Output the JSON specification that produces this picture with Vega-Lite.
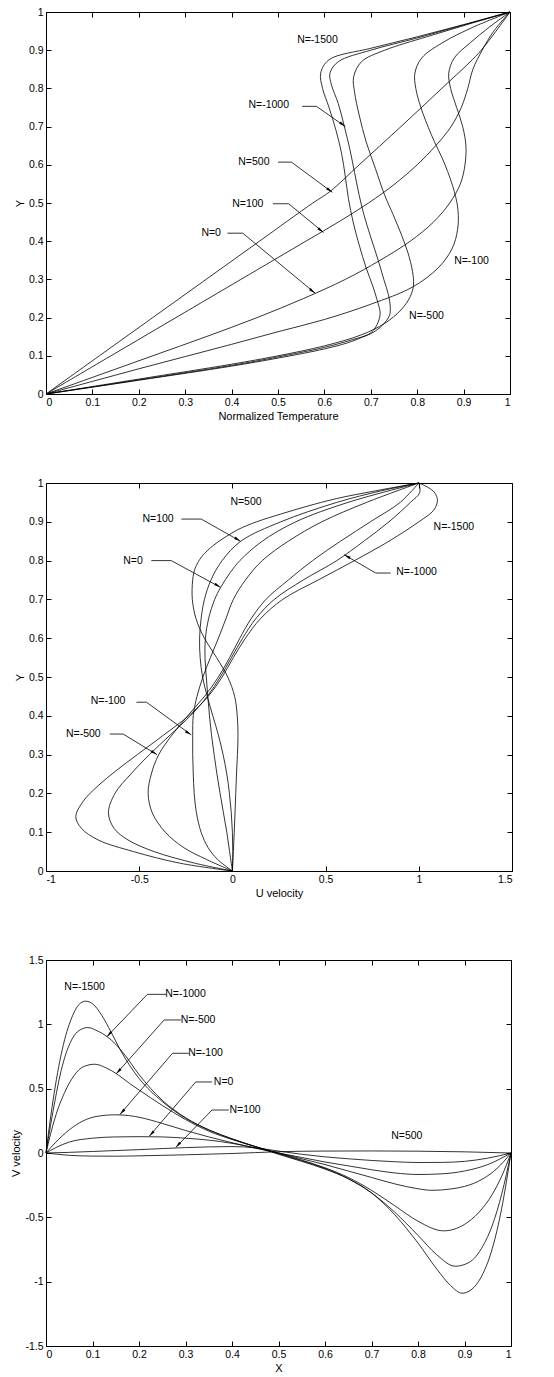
{
"$schema": "https://vega.github.io/schema/vega-lite/v6.json",
"padding": {"left": 10, "top": 6, "right": 8, "bottom": 4},
"background": "white",
"spacing": 89,
"bounds": "flush",
"config": {
  "view": {"stroke": "black", "strokeWidth": 1},
  "axis": {"grid": false, "domain": false, "tickColor": "black", "tickSize": -5, "tickWidth": 1, "labelColor": "black", "labelFont": "Liberation Sans", "labelFontSize": 10.5, "titleFont": "Liberation Sans", "titleFontSize": 11, "titleFontWeight": "normal", "titleColor": "black", "labelPadding": 8, "titlePadding": 3},
  "text": {"font": "Liberation Sans", "fontSize": 10.5, "color": "black"},
  "locale": {"number": {"decimal": ".", "thousands": ",", "grouping": [3], "currency": ["$", ""], "minus": "-"}}
},
"datasets": {
  "temp": [
    {"n":500,"y":0,"t":0},{"n":500,"y":0.1,"t":0.115},{"n":500,"y":0.2,"t":0.23},{"n":500,"y":0.3,"t":0.345},{"n":500,"y":0.4,"t":0.46},{"n":500,"y":0.5,"t":0.575},{"n":500,"y":0.53,"t":0.612},{"n":500,"y":0.6,"t":0.675},{"n":500,"y":0.7,"t":0.765},{"n":500,"y":0.8,"t":0.853},{"n":500,"y":0.867,"t":0.912},{"n":500,"y":0.9,"t":0.938},{"n":500,"y":0.95,"t":0.97},{"n":500,"y":1,"t":1},
    {"n":100,"y":0,"t":0},{"n":100,"y":0.1,"t":0.14},{"n":100,"y":0.2,"t":0.28},{"n":100,"y":0.3,"t":0.42},{"n":100,"y":0.35,"t":0.49},{"n":100,"y":0.4,"t":0.56},{"n":100,"y":0.45,"t":0.63},{"n":100,"y":0.5,"t":0.695},{"n":100,"y":0.55,"t":0.752},{"n":100,"y":0.6,"t":0.8},{"n":100,"y":0.65,"t":0.84},{"n":100,"y":0.7,"t":0.873},{"n":100,"y":0.75,"t":0.895},{"n":100,"y":0.8,"t":0.909},{"n":100,"y":0.85,"t":0.92},{"n":100,"y":0.9,"t":0.94},{"n":100,"y":0.95,"t":0.965},{"n":100,"y":1,"t":1},
    {"n":0,"y":0,"t":0},{"n":0,"y":0.05,"t":0.115},{"n":0,"y":0.1,"t":0.23},{"n":0,"y":0.15,"t":0.345},{"n":0,"y":0.2,"t":0.455},{"n":0,"y":0.25,"t":0.555},{"n":0,"y":0.3,"t":0.645},{"n":0,"y":0.35,"t":0.72},{"n":0,"y":0.4,"t":0.785},{"n":0,"y":0.45,"t":0.835},{"n":0,"y":0.5,"t":0.87},{"n":0,"y":0.55,"t":0.893},{"n":0,"y":0.6,"t":0.903},{"n":0,"y":0.65,"t":0.905},{"n":0,"y":0.7,"t":0.898},{"n":0,"y":0.75,"t":0.885},{"n":0,"y":0.8,"t":0.872},{"n":0,"y":0.84,"t":0.868},{"n":0,"y":0.88,"t":0.88},{"n":0,"y":0.92,"t":0.915},{"n":0,"y":0.96,"t":0.955},{"n":0,"y":1,"t":1},
    {"n":-100,"y":0,"t":0},{"n":-100,"y":0.033,"t":0.1},{"n":-100,"y":0.066,"t":0.2},{"n":-100,"y":0.098,"t":0.3},{"n":-100,"y":0.13,"t":0.4},{"n":-100,"y":0.163,"t":0.5},{"n":-100,"y":0.195,"t":0.6},{"n":-100,"y":0.235,"t":0.7},{"n":-100,"y":0.28,"t":0.79},{"n":-100,"y":0.33,"t":0.845},{"n":-100,"y":0.38,"t":0.875},{"n":-100,"y":0.43,"t":0.887},{"n":-100,"y":0.48,"t":0.888},{"n":-100,"y":0.53,"t":0.88},{"n":-100,"y":0.6,"t":0.86},{"n":-100,"y":0.68,"t":0.83},{"n":-100,"y":0.75,"t":0.808},{"n":-100,"y":0.8,"t":0.797},{"n":-100,"y":0.84,"t":0.795},{"n":-100,"y":0.88,"t":0.81},{"n":-100,"y":0.92,"t":0.855},{"n":-100,"y":0.96,"t":0.92},{"n":-100,"y":1,"t":1},
    {"n":-500,"y":0,"t":0},{"n":-500,"y":0.039,"t":0.2},{"n":-500,"y":0.078,"t":0.4},{"n":-500,"y":0.1,"t":0.5},{"n":-500,"y":0.126,"t":0.6},{"n":-500,"y":0.155,"t":0.68},{"n":-500,"y":0.185,"t":0.73},{"n":-500,"y":0.22,"t":0.765},{"n":-500,"y":0.255,"t":0.785},{"n":-500,"y":0.285,"t":0.792},{"n":-500,"y":0.32,"t":0.79},{"n":-500,"y":0.37,"t":0.78},{"n":-500,"y":0.42,"t":0.765},{"n":-500,"y":0.47,"t":0.748},{"n":-500,"y":0.52,"t":0.73},{"n":-500,"y":0.59,"t":0.71},{"n":-500,"y":0.66,"t":0.69},{"n":-500,"y":0.73,"t":0.675},{"n":-500,"y":0.79,"t":0.665},{"n":-500,"y":0.83,"t":0.663},{"n":-500,"y":0.87,"t":0.68},{"n":-500,"y":0.9,"t":0.73},{"n":-500,"y":0.935,"t":0.82},{"n":-500,"y":0.968,"t":0.91},{"n":-500,"y":1,"t":1},
    {"n":-1000,"y":0,"t":0},{"n":-1000,"y":0.037,"t":0.2},{"n":-1000,"y":0.075,"t":0.4},{"n":-1000,"y":0.097,"t":0.5},{"n":-1000,"y":0.122,"t":0.6},{"n":-1000,"y":0.142,"t":0.66},{"n":-1000,"y":0.158,"t":0.7},{"n":-1000,"y":0.18,"t":0.725},{"n":-1000,"y":0.205,"t":0.74},{"n":-1000,"y":0.225,"t":0.742},{"n":-1000,"y":0.26,"t":0.738},{"n":-1000,"y":0.3,"t":0.728},{"n":-1000,"y":0.35,"t":0.716},{"n":-1000,"y":0.41,"t":0.7},{"n":-1000,"y":0.47,"t":0.685},{"n":-1000,"y":0.52,"t":0.675},{"n":-1000,"y":0.58,"t":0.665},{"n":-1000,"y":0.64,"t":0.655},{"n":-1000,"y":0.7,"t":0.643},{"n":-1000,"y":0.76,"t":0.63},{"n":-1000,"y":0.81,"t":0.615},{"n":-1000,"y":0.84,"t":0.612},{"n":-1000,"y":0.87,"t":0.63},{"n":-1000,"y":0.9,"t":0.7},{"n":-1000,"y":0.932,"t":0.8},{"n":-1000,"y":0.966,"t":0.9},{"n":-1000,"y":1,"t":1},
    {"n":-1500,"y":0,"t":0},{"n":-1500,"y":0.036,"t":0.2},{"n":-1500,"y":0.073,"t":0.4},{"n":-1500,"y":0.094,"t":0.5},{"n":-1500,"y":0.118,"t":0.6},{"n":-1500,"y":0.134,"t":0.65},{"n":-1500,"y":0.148,"t":0.68},{"n":-1500,"y":0.16,"t":0.7},{"n":-1500,"y":0.176,"t":0.711},{"n":-1500,"y":0.2,"t":0.719},{"n":-1500,"y":0.215,"t":0.72},{"n":-1500,"y":0.24,"t":0.715},{"n":-1500,"y":0.28,"t":0.705},{"n":-1500,"y":0.33,"t":0.69},{"n":-1500,"y":0.39,"t":0.675},{"n":-1500,"y":0.45,"t":0.662},{"n":-1500,"y":0.51,"t":0.652},{"n":-1500,"y":0.57,"t":0.645},{"n":-1500,"y":0.63,"t":0.637},{"n":-1500,"y":0.69,"t":0.625},{"n":-1500,"y":0.75,"t":0.61},{"n":-1500,"y":0.8,"t":0.596},{"n":-1500,"y":0.84,"t":0.592},{"n":-1500,"y":0.875,"t":0.61},{"n":-1500,"y":0.905,"t":0.7},{"n":-1500,"y":0.935,"t":0.8},{"n":-1500,"y":0.967,"t":0.9},{"n":-1500,"y":1,"t":1}
  ],
  "lab1": [
    {"label":"N=-1500","x":0.585,"y":0.926},{"label":"N=-1000","x":0.48,"y":0.757},{"label":"N=500","x":0.448,"y":0.607},{"label":"N=100","x":0.435,"y":0.498},{"label":"N=0","x":0.356,"y":0.421},{"label":"N=-100","x":0.917,"y":0.347},{"label":"N=-500","x":0.82,"y":0.203}
  ],
  "ld1": [
    {"g":"N=-1000","s":1,"x":0.552,"y":0.753},{"g":"N=-1000","s":2,"x":0.583,"y":0.753},{"g":"N=-1000","s":3,"x":0.645,"y":0.7},
    {"g":"N=500","s":1,"x":0.5,"y":0.607},{"g":"N=500","s":2,"x":0.529,"y":0.607},{"g":"N=500","s":3,"x":0.617,"y":0.528},
    {"g":"N=100","s":1,"x":0.489,"y":0.498},{"g":"N=100","s":2,"x":0.523,"y":0.498},{"g":"N=100","s":3,"x":0.598,"y":0.423},
    {"g":"N=0","s":1,"x":0.391,"y":0.421},{"g":"N=0","s":2,"x":0.424,"y":0.421},{"g":"N=0","s":3,"x":0.58,"y":0.264}
  ],
  "uvel": [
    {"n":500,"y":0,"u":0},{"n":500,"y":0.05,"u":0.005},{"n":500,"y":0.1,"u":0.01},{"n":500,"y":0.15,"u":0.014},{"n":500,"y":0.2,"u":0.018},{"n":500,"y":0.25,"u":0.022},{"n":500,"y":0.3,"u":0.027},{"n":500,"y":0.35,"u":0.03},{"n":500,"y":0.4,"u":0.026},{"n":500,"y":0.45,"u":0.012},{"n":500,"y":0.5,"u":-0.025},{"n":500,"y":0.55,"u":-0.085},{"n":500,"y":0.6,"u":-0.15},{"n":500,"y":0.65,"u":-0.195},{"n":500,"y":0.7,"u":-0.215},{"n":500,"y":0.75,"u":-0.213},{"n":500,"y":0.78,"u":-0.2},{"n":500,"y":0.81,"u":-0.165},{"n":500,"y":0.84,"u":-0.1},{"n":500,"y":0.86,"u":-0.04},{"n":500,"y":0.88,"u":0.03},{"n":500,"y":0.9,"u":0.13},{"n":500,"y":0.92,"u":0.26},{"n":500,"y":0.94,"u":0.4},{"n":500,"y":0.96,"u":0.56},{"n":500,"y":0.98,"u":0.77},{"n":500,"y":1,"u":1},
    {"n":100,"y":0,"u":0},{"n":100,"y":0.05,"u":0.002},{"n":100,"y":0.1,"u":0.0},{"n":100,"y":0.15,"u":-0.006},{"n":100,"y":0.2,"u":-0.016},{"n":100,"y":0.25,"u":-0.03},{"n":100,"y":0.3,"u":-0.05},{"n":100,"y":0.35,"u":-0.075},{"n":100,"y":0.4,"u":-0.105},{"n":100,"y":0.45,"u":-0.135},{"n":100,"y":0.5,"u":-0.16},{"n":100,"y":0.55,"u":-0.173},{"n":100,"y":0.6,"u":-0.176},{"n":100,"y":0.65,"u":-0.168},{"n":100,"y":0.7,"u":-0.15},{"n":100,"y":0.75,"u":-0.115},{"n":100,"y":0.8,"u":-0.055},{"n":100,"y":0.85,"u":0.045},{"n":100,"y":0.9,"u":0.26},{"n":100,"y":0.95,"u":0.56},{"n":100,"y":0.98,"u":0.8},{"n":100,"y":1,"u":1},
    {"n":0,"y":0,"u":0},{"n":0,"y":0.05,"u":-0.015},{"n":0,"y":0.1,"u":-0.03},{"n":0,"y":0.15,"u":-0.048},{"n":0,"y":0.2,"u":-0.066},{"n":0,"y":0.25,"u":-0.083},{"n":0,"y":0.3,"u":-0.098},{"n":0,"y":0.35,"u":-0.112},{"n":0,"y":0.4,"u":-0.123},{"n":0,"y":0.45,"u":-0.132},{"n":0,"y":0.5,"u":-0.14},{"n":0,"y":0.55,"u":-0.147},{"n":0,"y":0.6,"u":-0.145},{"n":0,"y":0.65,"u":-0.128},{"n":0,"y":0.7,"u":-0.095},{"n":0,"y":0.73,"u":-0.064},{"n":0,"y":0.77,"u":-0.01},{"n":0,"y":0.8,"u":0.04},{"n":0,"y":0.85,"u":0.16},{"n":0,"y":0.9,"u":0.34},{"n":0,"y":0.95,"u":0.62},{"n":0,"y":1,"u":1},
    {"n":-100,"y":0,"u":0},{"n":-100,"y":0.03,"u":-0.08},{"n":-100,"y":0.06,"u":-0.13},{"n":-100,"y":0.1,"u":-0.168},{"n":-100,"y":0.15,"u":-0.193},{"n":-100,"y":0.2,"u":-0.205},{"n":-100,"y":0.25,"u":-0.21},{"n":-100,"y":0.3,"u":-0.213},{"n":-100,"y":0.35,"u":-0.213},{"n":-100,"y":0.4,"u":-0.21},{"n":-100,"y":0.45,"u":-0.19},{"n":-100,"y":0.5,"u":-0.158},{"n":-100,"y":0.55,"u":-0.118},{"n":-100,"y":0.6,"u":-0.075},{"n":-100,"y":0.65,"u":-0.035},{"n":-100,"y":0.7,"u":0.005},{"n":-100,"y":0.75,"u":0.07},{"n":-100,"y":0.8,"u":0.16},{"n":-100,"y":0.85,"u":0.3},{"n":-100,"y":0.9,"u":0.48},{"n":-100,"y":0.95,"u":0.72},{"n":-100,"y":1,"u":1},
    {"n":-500,"y":0,"u":0},{"n":-500,"y":0.03,"u":-0.14},{"n":-500,"y":0.06,"u":-0.26},{"n":-500,"y":0.1,"u":-0.36},{"n":-500,"y":0.15,"u":-0.43},{"n":-500,"y":0.2,"u":-0.452},{"n":-500,"y":0.25,"u":-0.435},{"n":-500,"y":0.3,"u":-0.395},{"n":-500,"y":0.35,"u":-0.325},{"n":-500,"y":0.4,"u":-0.24},{"n":-500,"y":0.45,"u":-0.15},{"n":-500,"y":0.5,"u":-0.075},{"n":-500,"y":0.55,"u":-0.015},{"n":-500,"y":0.6,"u":0.04},{"n":-500,"y":0.65,"u":0.1},{"n":-500,"y":0.7,"u":0.18},{"n":-500,"y":0.75,"u":0.3},{"n":-500,"y":0.8,"u":0.43},{"n":-500,"y":0.85,"u":0.58},{"n":-500,"y":0.9,"u":0.74},{"n":-500,"y":0.95,"u":0.9},{"n":-500,"y":1,"u":1},
    {"n":-1000,"y":0,"u":0},{"n":-1000,"y":0.02,"u":-0.2},{"n":-1000,"y":0.05,"u":-0.42},{"n":-1000,"y":0.08,"u":-0.56},{"n":-1000,"y":0.11,"u":-0.635},{"n":-1000,"y":0.15,"u":-0.665},{"n":-1000,"y":0.2,"u":-0.63},{"n":-1000,"y":0.25,"u":-0.545},{"n":-1000,"y":0.3,"u":-0.445},{"n":-1000,"y":0.35,"u":-0.335},{"n":-1000,"y":0.4,"u":-0.225},{"n":-1000,"y":0.45,"u":-0.135},{"n":-1000,"y":0.5,"u":-0.065},{"n":-1000,"y":0.55,"u":-0.005},{"n":-1000,"y":0.6,"u":0.055},{"n":-1000,"y":0.65,"u":0.125},{"n":-1000,"y":0.7,"u":0.225},{"n":-1000,"y":0.75,"u":0.38},{"n":-1000,"y":0.8,"u":0.56},{"n":-1000,"y":0.85,"u":0.705},{"n":-1000,"y":0.9,"u":0.84},{"n":-1000,"y":0.95,"u":0.955},{"n":-1000,"y":0.975,"u":1.005},{"n":-1000,"y":1,"u":1},
    {"n":-1500,"y":0,"u":0},{"n":-1500,"y":0.02,"u":-0.28},{"n":-1500,"y":0.05,"u":-0.53},{"n":-1500,"y":0.08,"u":-0.72},{"n":-1500,"y":0.11,"u":-0.81},{"n":-1500,"y":0.14,"u":-0.84},{"n":-1500,"y":0.18,"u":-0.8},{"n":-1500,"y":0.22,"u":-0.72},{"n":-1500,"y":0.26,"u":-0.62},{"n":-1500,"y":0.3,"u":-0.51},{"n":-1500,"y":0.35,"u":-0.37},{"n":-1500,"y":0.4,"u":-0.235},{"n":-1500,"y":0.45,"u":-0.13},{"n":-1500,"y":0.5,"u":-0.055},{"n":-1500,"y":0.55,"u":0.005},{"n":-1500,"y":0.6,"u":0.07},{"n":-1500,"y":0.65,"u":0.15},{"n":-1500,"y":0.7,"u":0.27},{"n":-1500,"y":0.75,"u":0.46},{"n":-1500,"y":0.8,"u":0.655},{"n":-1500,"y":0.85,"u":0.84},{"n":-1500,"y":0.9,"u":1.0},{"n":-1500,"y":0.93,"u":1.08},{"n":-1500,"y":0.955,"u":1.1},{"n":-1500,"y":0.975,"u":1.085},{"n":-1500,"y":0.99,"u":1.045},{"n":-1500,"y":1,"u":1}
  ],
  "lab2": [
    {"label":"N=500","x":0.073,"y":0.95},{"label":"N=100","x":-0.399,"y":0.907},{"label":"N=0","x":-0.533,"y":0.8},{"label":"N=-1500","x":1.188,"y":0.886},{"label":"N=-1000","x":0.988,"y":0.77},{"label":"N=-100","x":-0.667,"y":0.439},{"label":"N=-500","x":-0.8,"y":0.353}
  ],
  "ld2": [
    {"g":"N=100","s":1,"x":-0.274,"y":0.907},{"g":"N=100","s":2,"x":-0.167,"y":0.907},{"g":"N=100","s":3,"x":0.043,"y":0.85},
    {"g":"N=0","s":1,"x":-0.435,"y":0.8},{"g":"N=0","s":2,"x":-0.328,"y":0.8},{"g":"N=0","s":3,"x":-0.064,"y":0.731},
    {"g":"N=-100","s":1,"x":-0.515,"y":0.435},{"g":"N=-100","s":2,"x":-0.461,"y":0.435},{"g":"N=-100","s":3,"x":-0.221,"y":0.351},
    {"g":"N=-500","s":1,"x":-0.658,"y":0.353},{"g":"N=-500","s":2,"x":-0.586,"y":0.353},{"g":"N=-500","s":3,"x":-0.405,"y":0.3},
    {"g":"N=-1000","s":1,"x":0.849,"y":0.768},{"g":"N=-1000","s":2,"x":0.769,"y":0.768},{"g":"N=-1000","s":3,"x":0.6,"y":0.815}
  ],
  "vvel": [
    {"n":-1500,"x":0,"v":0},{"n":-1500,"x":0.01,"v":0.28},{"n":-1500,"x":0.02,"v":0.52},{"n":-1500,"x":0.03,"v":0.72},{"n":-1500,"x":0.04,"v":0.88},{"n":-1500,"x":0.05,"v":1.0},{"n":-1500,"x":0.06,"v":1.09},{"n":-1500,"x":0.07,"v":1.15},{"n":-1500,"x":0.085,"v":1.18},{"n":-1500,"x":0.1,"v":1.16},{"n":-1500,"x":0.12,"v":1.07},{"n":-1500,"x":0.14,"v":0.94},{"n":-1500,"x":0.16,"v":0.8},{"n":-1500,"x":0.18,"v":0.68},{"n":-1500,"x":0.2,"v":0.58},{"n":-1500,"x":0.25,"v":0.4},{"n":-1500,"x":0.3,"v":0.27},{"n":-1500,"x":0.35,"v":0.18},{"n":-1500,"x":0.4,"v":0.11},{"n":-1500,"x":0.45,"v":0.05},{"n":-1500,"x":0.5,"v":-0.01},{"n":-1500,"x":0.55,"v":-0.065},{"n":-1500,"x":0.6,"v":-0.125},{"n":-1500,"x":0.65,"v":-0.2},{"n":-1500,"x":0.7,"v":-0.31},{"n":-1500,"x":0.75,"v":-0.48},{"n":-1500,"x":0.8,"v":-0.7},{"n":-1500,"x":0.84,"v":-0.9},{"n":-1500,"x":0.87,"v":-1.03},{"n":-1500,"x":0.895,"v":-1.09},{"n":-1500,"x":0.92,"v":-1.045},{"n":-1500,"x":0.94,"v":-0.935},{"n":-1500,"x":0.96,"v":-0.74},{"n":-1500,"x":0.98,"v":-0.43},{"n":-1500,"x":1,"v":0},
    {"n":-1000,"x":0,"v":0},{"n":-1000,"x":0.01,"v":0.22},{"n":-1000,"x":0.02,"v":0.42},{"n":-1000,"x":0.03,"v":0.6},{"n":-1000,"x":0.04,"v":0.74},{"n":-1000,"x":0.05,"v":0.84},{"n":-1000,"x":0.06,"v":0.91},{"n":-1000,"x":0.075,"v":0.96},{"n":-1000,"x":0.09,"v":0.975},{"n":-1000,"x":0.11,"v":0.95},{"n":-1000,"x":0.133,"v":0.9},{"n":-1000,"x":0.15,"v":0.845},{"n":-1000,"x":0.17,"v":0.76},{"n":-1000,"x":0.2,"v":0.61},{"n":-1000,"x":0.25,"v":0.41},{"n":-1000,"x":0.3,"v":0.275},{"n":-1000,"x":0.35,"v":0.18},{"n":-1000,"x":0.4,"v":0.11},{"n":-1000,"x":0.45,"v":0.05},{"n":-1000,"x":0.5,"v":-0.005},{"n":-1000,"x":0.55,"v":-0.06},{"n":-1000,"x":0.6,"v":-0.12},{"n":-1000,"x":0.65,"v":-0.2},{"n":-1000,"x":0.7,"v":-0.31},{"n":-1000,"x":0.75,"v":-0.46},{"n":-1000,"x":0.8,"v":-0.64},{"n":-1000,"x":0.84,"v":-0.79},{"n":-1000,"x":0.88,"v":-0.88},{"n":-1000,"x":0.91,"v":-0.85},{"n":-1000,"x":0.94,"v":-0.72},{"n":-1000,"x":0.96,"v":-0.56},{"n":-1000,"x":0.98,"v":-0.32},{"n":-1000,"x":1,"v":0},
    {"n":-500,"x":0,"v":0},{"n":-500,"x":0.01,"v":0.15},{"n":-500,"x":0.02,"v":0.28},{"n":-500,"x":0.04,"v":0.47},{"n":-500,"x":0.06,"v":0.6},{"n":-500,"x":0.08,"v":0.67},{"n":-500,"x":0.105,"v":0.69},{"n":-500,"x":0.13,"v":0.66},{"n":-500,"x":0.152,"v":0.615},{"n":-500,"x":0.18,"v":0.54},{"n":-500,"x":0.2,"v":0.49},{"n":-500,"x":0.25,"v":0.37},{"n":-500,"x":0.3,"v":0.26},{"n":-500,"x":0.35,"v":0.17},{"n":-500,"x":0.4,"v":0.105},{"n":-500,"x":0.45,"v":0.05},{"n":-500,"x":0.5,"v":0.0},{"n":-500,"x":0.55,"v":-0.055},{"n":-500,"x":0.6,"v":-0.115},{"n":-500,"x":0.65,"v":-0.19},{"n":-500,"x":0.7,"v":-0.29},{"n":-500,"x":0.75,"v":-0.41},{"n":-500,"x":0.8,"v":-0.53},{"n":-500,"x":0.855,"v":-0.605},{"n":-500,"x":0.9,"v":-0.555},{"n":-500,"x":0.93,"v":-0.465},{"n":-500,"x":0.96,"v":-0.32},{"n":-500,"x":0.98,"v":-0.18},{"n":-500,"x":1,"v":0},
    {"n":-100,"x":0,"v":0},{"n":-100,"x":0.02,"v":0.08},{"n":-100,"x":0.05,"v":0.18},{"n":-100,"x":0.08,"v":0.25},{"n":-100,"x":0.11,"v":0.285},{"n":-100,"x":0.15,"v":0.297},{"n":-100,"x":0.18,"v":0.29},{"n":-100,"x":0.2,"v":0.278},{"n":-100,"x":0.25,"v":0.23},{"n":-100,"x":0.3,"v":0.175},{"n":-100,"x":0.35,"v":0.125},{"n":-100,"x":0.4,"v":0.08},{"n":-100,"x":0.45,"v":0.038},{"n":-100,"x":0.5,"v":0.0},{"n":-100,"x":0.55,"v":-0.045},{"n":-100,"x":0.6,"v":-0.09},{"n":-100,"x":0.65,"v":-0.14},{"n":-100,"x":0.7,"v":-0.19},{"n":-100,"x":0.75,"v":-0.24},{"n":-100,"x":0.8,"v":-0.278},{"n":-100,"x":0.83,"v":-0.29},{"n":-100,"x":0.87,"v":-0.28},{"n":-100,"x":0.9,"v":-0.26},{"n":-100,"x":0.94,"v":-0.2},{"n":-100,"x":0.97,"v":-0.12},{"n":-100,"x":1,"v":0},
    {"n":0,"x":0,"v":0},{"n":0,"x":0.02,"v":0.04},{"n":0,"x":0.05,"v":0.085},{"n":0,"x":0.1,"v":0.115},{"n":0,"x":0.15,"v":0.125},{"n":0,"x":0.2,"v":0.127},{"n":0,"x":0.25,"v":0.125},{"n":0,"x":0.3,"v":0.115},{"n":0,"x":0.35,"v":0.1},{"n":0,"x":0.4,"v":0.075},{"n":0,"x":0.45,"v":0.04},{"n":0,"x":0.5,"v":0.0},{"n":0,"x":0.55,"v":-0.035},{"n":0,"x":0.6,"v":-0.07},{"n":0,"x":0.65,"v":-0.1},{"n":0,"x":0.7,"v":-0.13},{"n":0,"x":0.75,"v":-0.155},{"n":0,"x":0.8,"v":-0.167},{"n":0,"x":0.85,"v":-0.162},{"n":0,"x":0.9,"v":-0.14},{"n":0,"x":0.95,"v":-0.09},{"n":0,"x":1,"v":0},
    {"n":100,"x":0,"v":0},{"n":100,"x":0.05,"v":0.005},{"n":100,"x":0.1,"v":0.012},{"n":100,"x":0.2,"v":0.026},{"n":100,"x":0.3,"v":0.042},{"n":100,"x":0.4,"v":0.05},{"n":100,"x":0.45,"v":0.04},{"n":100,"x":0.5,"v":0.015},{"n":100,"x":0.55,"v":-0.01},{"n":100,"x":0.6,"v":-0.03},{"n":100,"x":0.65,"v":-0.045},{"n":100,"x":0.7,"v":-0.058},{"n":100,"x":0.75,"v":-0.068},{"n":100,"x":0.8,"v":-0.074},{"n":100,"x":0.85,"v":-0.073},{"n":100,"x":0.9,"v":-0.065},{"n":100,"x":0.95,"v":-0.04},{"n":100,"x":1,"v":0},
    {"n":500,"x":0,"v":0},{"n":500,"x":0.05,"v":-0.018},{"n":500,"x":0.1,"v":-0.024},{"n":500,"x":0.15,"v":-0.025},{"n":500,"x":0.2,"v":-0.022},{"n":500,"x":0.3,"v":-0.014},{"n":500,"x":0.4,"v":-0.004},{"n":500,"x":0.45,"v":0.003},{"n":500,"x":0.5,"v":0.01},{"n":500,"x":0.6,"v":0.015},{"n":500,"x":0.7,"v":0.016},{"n":500,"x":0.8,"v":0.014},{"n":500,"x":0.9,"v":0.009},{"n":500,"x":1,"v":0}
  ],
  "lab3": [
    {"label":"N=-1500","x":0.083,"y":1.293},{"label":"N=-1000","x":0.3,"y":1.233},{"label":"N=-500","x":0.327,"y":1.034},{"label":"N=-100","x":0.343,"y":0.775},{"label":"N=0","x":0.382,"y":0.552},{"label":"N=100","x":0.428,"y":0.334},{"label":"N=500","x":0.776,"y":0.132}
  ],
  "ld3": [
    {"g":"N=-1000","s":1,"x":0.258,"y":1.233},{"g":"N=-1000","s":2,"x":0.218,"y":1.233},{"g":"N=-1000","s":3,"x":0.131,"y":0.904},
    {"g":"N=-500","s":1,"x":0.29,"y":1.034},{"g":"N=-500","s":2,"x":0.254,"y":1.034},{"g":"N=-500","s":3,"x":0.151,"y":0.615},
    {"g":"N=-100","s":1,"x":0.307,"y":0.775},{"g":"N=-100","s":2,"x":0.272,"y":0.775},{"g":"N=-100","s":3,"x":0.159,"y":0.3},
    {"g":"N=0","s":1,"x":0.357,"y":0.552},{"g":"N=0","s":2,"x":0.322,"y":0.552},{"g":"N=0","s":3,"x":0.222,"y":0.13},
    {"g":"N=100","s":1,"x":0.393,"y":0.334},{"g":"N=100","s":2,"x":0.357,"y":0.334},{"g":"N=100","s":3,"x":0.279,"y":0.043}
  ]
},
"vconcat": [
  {
    "width": 464, "height": 382,
    "resolve": {"axis": {"x": "independent", "y": "independent"}},
    "layer": [
      {"data": {"name": "temp"},
       "mark": {"type": "line", "color": "black", "strokeWidth": 0.8, "interpolate": "catmull-rom"},
       "encoding": {
         "x": {"field": "t", "type": "quantitative", "scale": {"domain": [0, 1], "nice": false, "zero": false},
               "axis": {"values": [0,0.1,0.2,0.3,0.4,0.5,0.6,0.7,0.8,0.9,1], "format": "~g", "title": "Normalized Temperature"}},
         "y": {"field": "y", "type": "quantitative", "scale": {"domain": [0, 1], "nice": false, "zero": false},
               "axis": {"values": [0,0.1,0.2,0.3,0.4,0.5,0.6,0.7,0.8,0.9,1], "format": "~g", "title": "Y"}},
         "detail": {"field": "n", "type": "nominal"},
         "order": {"field": "y", "type": "quantitative"}
       }},
      {"data": {"name": "ld1"},
       "mark": {"type": "line", "color": "black", "strokeWidth": 0.8},
       "encoding": {
         "x": {"field": "x", "type": "quantitative", "axis": {"orient": "top", "labels": false, "title": null, "values": [0,0.1,0.2,0.3,0.4,0.5,0.6,0.7,0.8,0.9,1]}},
         "y": {"field": "y", "type": "quantitative", "axis": {"orient": "right", "labels": false, "title": null, "values": [0,0.1,0.2,0.3,0.4,0.5,0.6,0.7,0.8,0.9,1]}},
         "detail": {"field": "g", "type": "nominal"},
         "order": {"field": "s", "type": "quantitative"}
       }},
      {"data": {"name": "ld1"},
       "transform": [{"filter": "datum.s == 3"}],
       "mark": {"type": "point", "shape": "M0,0L0.5,2.4L-0.5,2.4Z", "filled": true, "color": "black", "size": 30, "angle": 127, "opacity": 1},
       "encoding": {
         "x": {"field": "x", "type": "quantitative", "axis": null},
         "y": {"field": "y", "type": "quantitative", "axis": null}
       }},
      {"data": {"name": "lab1"},
       "mark": {"type": "text", "align": "center", "baseline": "middle"},
       "encoding": {
         "x": {"field": "x", "type": "quantitative", "axis": null},
         "y": {"field": "y", "type": "quantitative", "axis": null},
         "text": {"field": "label"}
       }}
    ]
  },
  {
    "width": 466, "height": 388,
    "resolve": {"axis": {"x": "independent", "y": "independent"}},
    "layer": [
      {"data": {"name": "uvel"},
       "mark": {"type": "line", "color": "black", "strokeWidth": 0.8, "interpolate": "catmull-rom"},
       "encoding": {
         "x": {"field": "u", "type": "quantitative", "scale": {"domain": [-1, 1.5], "nice": false, "zero": false},
               "axis": {"values": [-1,-0.5,0,0.5,1,1.5], "format": "~g", "title": "U velocity"}},
         "y": {"field": "y", "type": "quantitative", "scale": {"domain": [0, 1], "nice": false, "zero": false},
               "axis": {"values": [0,0.1,0.2,0.3,0.4,0.5,0.6,0.7,0.8,0.9,1], "format": "~g", "title": "Y"}},
         "detail": {"field": "n", "type": "nominal"},
         "order": {"field": "y", "type": "quantitative"}
       }},
      {"data": {"name": "ld2"},
       "mark": {"type": "line", "color": "black", "strokeWidth": 0.8},
       "encoding": {
         "x": {"field": "x", "type": "quantitative", "axis": {"orient": "top", "labels": false, "title": null, "values": [-1,-0.5,0,0.5,1,1.5]}},
         "y": {"field": "y", "type": "quantitative", "axis": {"orient": "right", "labels": false, "title": null, "values": [0,0.1,0.2,0.3,0.4,0.5,0.6,0.7,0.8,0.9,1]}},
         "detail": {"field": "g", "type": "nominal"},
         "order": {"field": "s", "type": "quantitative"}
       }},
      {"data": {"name": "ld2"},
       "transform": [{"filter": "datum.s == 3 && datum.g != 'N=-1000'"}],
       "mark": {"type": "point", "shape": "M0,0L0.5,2.4L-0.5,2.4Z", "filled": true, "color": "black", "size": 30, "angle": 122, "opacity": 1},
       "encoding": {
         "x": {"field": "x", "type": "quantitative", "axis": null},
         "y": {"field": "y", "type": "quantitative", "axis": null}
       }},
      {"data": {"name": "ld2"},
       "transform": [{"filter": "datum.s == 3 && datum.g == 'N=-1000'"}],
       "mark": {"type": "point", "shape": "M0,0L0.5,2.4L-0.5,2.4Z", "filled": true, "color": "black", "size": 30, "angle": 299, "opacity": 1},
       "encoding": {
         "x": {"field": "x", "type": "quantitative", "axis": null},
         "y": {"field": "y", "type": "quantitative", "axis": null}
       }},
      {"data": {"name": "lab2"},
       "mark": {"type": "text", "align": "center", "baseline": "middle"},
       "encoding": {
         "x": {"field": "x", "type": "quantitative", "axis": null},
         "y": {"field": "y", "type": "quantitative", "axis": null},
         "text": {"field": "label"}
       }}
    ]
  },
  {
    "width": 465, "height": 386,
    "resolve": {"axis": {"x": "independent", "y": "independent"}},
    "layer": [
      {"data": {"name": "vvel"},
       "mark": {"type": "line", "color": "black", "strokeWidth": 0.8, "interpolate": "monotone"},
       "encoding": {
         "x": {"field": "x", "type": "quantitative", "scale": {"domain": [0, 1], "nice": false, "zero": false},
               "axis": {"values": [0,0.1,0.2,0.3,0.4,0.5,0.6,0.7,0.8,0.9,1], "format": "~g", "title": "X"}},
         "y": {"field": "v", "type": "quantitative", "scale": {"domain": [-1.5, 1.5], "nice": false, "zero": false},
               "axis": {"values": [-1.5,-1,-0.5,0,0.5,1,1.5], "format": "~g", "title": "V velocity"}},
         "detail": {"field": "n", "type": "nominal"}
       }},
      {"data": {"name": "ld3"},
       "mark": {"type": "line", "color": "black", "strokeWidth": 0.8},
       "encoding": {
         "x": {"field": "x", "type": "quantitative", "axis": {"orient": "top", "labels": false, "title": null, "values": [0,0.1,0.2,0.3,0.4,0.5,0.6,0.7,0.8,0.9,1]}},
         "y": {"field": "y", "type": "quantitative", "axis": {"orient": "right", "labels": false, "title": null, "values": [-1.5,-1,-0.5,0,0.5,1,1.5]}},
         "detail": {"field": "g", "type": "nominal"},
         "order": {"field": "s", "type": "quantitative"}
       }},
      {"data": {"name": "ld3"},
       "transform": [{"filter": "datum.s == 3"}],
       "mark": {"type": "point", "shape": "M0,0L0.5,2.4L-0.5,2.4Z", "filled": true, "color": "black", "size": 30, "angle": 222, "opacity": 1},
       "encoding": {
         "x": {"field": "x", "type": "quantitative", "axis": null},
         "y": {"field": "y", "type": "quantitative", "axis": null}
       }},
      {"data": {"name": "lab3"},
       "mark": {"type": "text", "align": "center", "baseline": "middle"},
       "encoding": {
         "x": {"field": "x", "type": "quantitative", "axis": null},
         "y": {"field": "y", "type": "quantitative", "axis": null},
         "text": {"field": "label"}
       }}
    ]
  }
]
}
